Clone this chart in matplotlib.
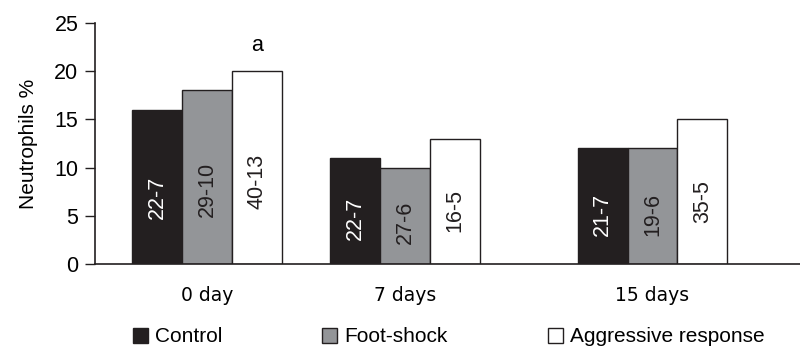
import matplotlib.pyplot as plt
from matplotlib.patches import Patch
import numpy as np

groups = ['0 day', '7 days', '15 days']
group_pos = [0, 1, 2.25]
series = ['Control', 'Foot-shock', 'Aggressive response']
values = {
    'Control': [16, 11, 12],
    'Foot-shock': [18, 10, 12],
    'Aggressive response': [20, 13, 15],
}
bar_labels = {
    'Control': ['22-7', '22-7', '21-7'],
    'Foot-shock': ['29-10', '27-6', '19-6'],
    'Aggressive response': ['40-13', '16-5', '35-5'],
}
colors = {'Control': '#231f20', 'Foot-shock': '#939598', 'Aggressive response': 'white'}
text_colors = {'Control': 'white', 'Foot-shock': '#231f20', 'Aggressive response': '#231f20'}

plt.rcParams['font.family'] = ['Liberation Sans', 'DejaVu Sans']

fig = plt.figure(figsize=(8, 3.47), dpi=100)
ax = fig.add_axes([95 / 800, 1 - 264 / 347, 1 - 95 / 800, (264 - 23) / 347])

w = 0.2525
x = np.array(group_pos)
for i, s in enumerate(series):
    xs = x + (i - 1) * w
    ax.bar(xs, values[s], width=w, color=colors[s], edgecolor='#231f20', linewidth=1)
    for xi, v, lab in zip(xs, values[s], bar_labels[s]):
        ax.text(xi, v * 0.43, lab, rotation=90, ha='center', va='center',
                color=text_colors[s], fontsize=15.5)

# significance mark
ax.text(x[0] + w, values['Aggressive response'][0] + 1.6, 'a', ha='center', va='bottom', fontsize=15.5)

ax.set_xlim((95 - 207) / 198, (800 - 207) / 198)
ax.set_ylim(0, 25)
ax.set_yticks(range(0, 26, 5))
ax.set_xticks(x)
ax.set_xticklabels(groups, family='DejaVu Sans', fontsize=13.5)
ax.tick_params(axis='x', length=0, pad=16)
ax.tick_params(axis='y', length=7, width=1, labelsize=15.5, pad=5, color='#231f20')
ax.set_ylabel('Neutrophils %', fontsize=15, labelpad=12)
for sp in ['top', 'right']:
    ax.spines[sp].set_visible(False)
for sp in ['left', 'bottom']:
    ax.spines[sp].set_color('#231f20')
    ax.spines[sp].set_linewidth(1.2)

handles = [Patch(facecolor=colors[s], edgecolor='#231f20', linewidth=1, label=s) for s in series]
fig.legend(handles=handles, ncol=3, loc='center left', bbox_to_anchor=(133 / 800, 1 - 337 / 347),
           frameon=False, fontsize=15, handlelength=0.72, handleheight=0.72,
           handletextpad=0.34, columnspacing=4.8, borderpad=0, borderaxespad=0)

fig.savefig('out.png', dpi=100)
